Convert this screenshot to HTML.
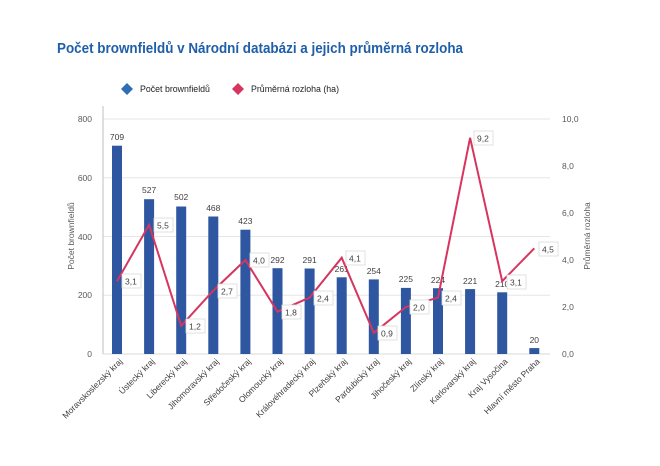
<!DOCTYPE html>
<html><head><meta charset="utf-8"><style>
html,body{margin:0;padding:0;background:#fff;}
svg{display:block;font-family:"Liberation Sans",sans-serif;}
.t{font-size:8.5px;fill:#595959;}
.v{font-size:8.5px;fill:#404040;text-anchor:middle;}
.x{font-size:8.5px;fill:#404040;text-anchor:end;}
.b{fill:#2f56a0;}
.lb rect{fill:#fff;stroke:#d9d9d9;stroke-width:0.8;}
.lb text{font-size:8.5px;fill:#404040;}
</style></head><body>
<svg width="660" height="466" viewBox="0 0 660 466">
<rect width="660" height="466" fill="#fff"/>
<text x="57" y="53" font-size="14.5" font-weight="bold" fill="#1f5ea8" textLength="406" lengthAdjust="spacingAndGlyphs">Počet brownfieldů v Národní databázi a jejich průměrná rozloha</text>
<path d="M127 83 L133 89 L127 95 L121 89Z" fill="#2f6db5"/>
<text x="140" y="92" font-size="8.8" fill="#222">Počet brownfieldů</text>
<path d="M238 83 L244 89 L238 95 L232 89Z" fill="#d6355f"/>
<text x="251" y="92" font-size="8.8" fill="#222">Průměrná rozloha (ha)</text>
<g stroke="#e6e6e6" stroke-width="1">
<line x1="103" y1="119" x2="550" y2="119"/><line x1="103" y1="177.75" x2="550" y2="177.75"/>
<line x1="103" y1="236.5" x2="550" y2="236.5"/><line x1="103" y1="295.25" x2="550" y2="295.25"/>
</g>
<line x1="103" y1="106" x2="103" y2="354" stroke="#bfbfbf"/>
<line x1="103" y1="354" x2="550" y2="354" stroke="#d9d9d9"/>
<g class="t" text-anchor="end">
<text x="92" y="122">800</text><text x="92" y="181">600</text><text x="92" y="240">400</text><text x="92" y="298">200</text><text x="92" y="357">0</text>
</g>
<g class="t">
<text x="562" y="122">10,0</text><text x="562" y="169">8,0</text><text x="562" y="216">6,0</text><text x="562" y="263">4,0</text><text x="562" y="310">2,0</text><text x="562" y="357">0,0</text>
</g>
<text class="t" transform="translate(74 236) rotate(-90)" text-anchor="middle">Počet brownfieldů</text>
<text class="t" transform="translate(590 236) rotate(-90)" text-anchor="middle">Průměrná rozloha</text>
<g class="b">
<rect x="112" y="145.7" width="10" height="208.3"/>
<rect x="144.1" y="199.2" width="10" height="154.8"/>
<rect x="176.2" y="206.5" width="10" height="147.5"/>
<rect x="208.3" y="216.5" width="10" height="137.5"/>
<rect x="240.4" y="229.7" width="10" height="124.3"/>
<rect x="272.5" y="268.2" width="10" height="85.8"/>
<rect x="304.6" y="268.5" width="10" height="85.5"/>
<rect x="336.7" y="277.3" width="10" height="76.7"/>
<rect x="368.8" y="279.4" width="10" height="74.6"/>
<rect x="400.9" y="287.9" width="10" height="66.1"/>
<rect x="433" y="288.2" width="10" height="65.8"/>
<rect x="465.1" y="289.1" width="10" height="64.9"/>
<rect x="497.2" y="292.3" width="10" height="61.7"/>
<rect x="529.3" y="348.1" width="10" height="5.9"/>
</g>
<g class="v">
<text x="117" y="140">709</text><text x="149.1" y="193">527</text><text x="181.2" y="200">502</text><text x="213.3" y="211">468</text><text x="245.4" y="224">423</text><text x="277.5" y="263">292</text><text x="309.6" y="263">291</text><text x="341.7" y="272">261</text><text x="373.8" y="274">254</text><text x="405.9" y="282">225</text><text x="438" y="283">224</text><text x="470.1" y="284">221</text><text x="502.2" y="287">210</text><text x="534.3" y="343">20</text>
</g>
<polyline fill="none" stroke="#d6355f" stroke-width="2" stroke-linejoin="miter" points="117,281.2 149.1,224.8 181.2,325.8 213.3,290.6 245.4,260 277.5,311.7 309.6,297.6 341.7,257.7 373.8,332.9 405.9,307 438,297.6 470.1,137.8 502.2,281.2 534.3,248.3"/>
<g class="lb">
<rect x="122" y="274" width="19" height="14"/><text x="125" y="284.5">3,1</text>
<rect x="154" y="218" width="19" height="14"/><text x="157" y="228.5">5,5</text>
<rect x="186" y="319" width="19" height="14"/><text x="189" y="329.5">1,2</text>
<rect x="218" y="284" width="19" height="14"/><text x="221" y="294.5">2,7</text>
<rect x="250" y="253" width="19" height="14"/><text x="253" y="263.5">4,0</text>
<rect x="282" y="305" width="19" height="14"/><text x="285" y="315.5">1,8</text>
<rect x="314" y="291" width="19" height="14"/><text x="317" y="301.5">2,4</text>
<rect x="346" y="251" width="19" height="14"/><text x="349" y="261.5">4,1</text>
<rect x="378" y="326" width="19" height="14"/><text x="381" y="336.5">0,9</text>
<rect x="410" y="300" width="19" height="14"/><text x="413" y="310.5">2,0</text>
<rect x="442" y="291" width="19" height="14"/><text x="445" y="301.5">2,4</text>
<rect x="474" y="131" width="19" height="14"/><text x="477" y="141.5">9,2</text>
<rect x="507" y="275" width="19" height="14"/><text x="510" y="285.5">3,1</text>
<rect x="539" y="242" width="19" height="14"/><text x="542" y="252.5">4,5</text>
</g>
<g class="x">
<text transform="translate(123 362) rotate(-45)">Moravskoslezský kraj</text>
<text transform="translate(155.1 362) rotate(-45)">Ústecký kraj</text>
<text transform="translate(187.2 362) rotate(-45)">Liberecký kraj</text>
<text transform="translate(219.3 362) rotate(-45)">Jihomoravský kraj</text>
<text transform="translate(251.4 362) rotate(-45)">Středočeský kraj</text>
<text transform="translate(283.5 362) rotate(-45)">Olomoucký kraj</text>
<text transform="translate(315.6 362) rotate(-45)">Královéhradecký kraj</text>
<text transform="translate(347.7 362) rotate(-45)">Plzeňský kraj</text>
<text transform="translate(379.8 362) rotate(-45)">Pardubický kraj</text>
<text transform="translate(411.9 362) rotate(-45)">Jihočeský kraj</text>
<text transform="translate(444 362) rotate(-45)">Zlínský kraj</text>
<text transform="translate(476.1 362) rotate(-45)">Karlovarský kraj</text>
<text transform="translate(508.2 362) rotate(-45)">Kraj Vysočina</text>
<text transform="translate(540.3 362) rotate(-45)">Hlavní město Praha</text>
</g>
</svg>
</body></html>
